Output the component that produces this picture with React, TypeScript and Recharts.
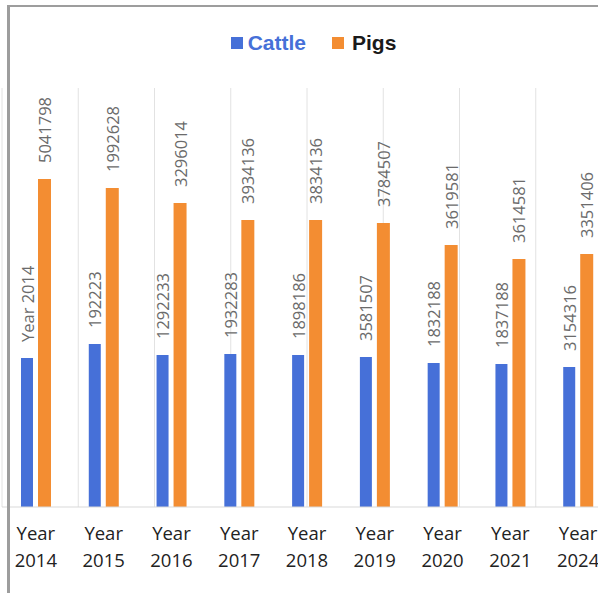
import React from 'react'
import { BarChart, Bar, XAxis, YAxis, CartesianGrid, Legend, LabelList } from 'recharts'

// categories along the x axis
const years = ['2014', '2015', '2016', '2017', '2018', '2019', '2020', '2021', '2024']

// bar heights (the printed labels do not match them)
const cattleValues = [149, 163, 152, 153, 152, 150, 144, 143, 140]
const pigsValues = [328, 319, 304, 287, 287, 284, 262, 248, 253]

// labels printed above the bars
const cattleLabels = ['Year 2014', '192223', '1292233', '1932283', '1898186', '3581507', '1832188', '1837188', '3154316']
const pigsLabels = ['5041798', '1992628', '3296014', '3934136', '3834136', '3784507', '3619581', '3614581', '3351406']

const gridTicks = [1, 2, 3, 4, 5, 6, 7, 8]

const CATTLE = '#4670D8'
const PIGS = '#F38D32'

const data = years.map((year, i) => ({
  year,
  cattle: cattleValues[i],
  pigs: pigsValues[i],
  cattleLabel: cattleLabels[i],
  pigsLabel: pigsLabels[i],
}))

const ValueLabel = (props: any) => {
  const { x, y, width, value } = props
  const cx = x + width / 2
  const cy = y - 16
  return (
    <text
      x={cx}
      y={cy}
      transform={`rotate(-90, ${cx}, ${cy})`}
      textAnchor="start"
      dominantBaseline="central"
      fontFamily="'Open Sans', sans-serif"
      fontSize={16.5}
      fill="#6b6b6b"
    >
      {value}
    </text>
  )
}

const YearTick = (props: any) => {
  const { x, y, payload } = props
  return (
    <text textAnchor="middle" fontFamily="'Open Sans', sans-serif" fontSize={18.5} fill="#222">
      <tspan x={x} y={y + 33}>Year</tspan>
      <tspan x={x} y={y + 60}>{payload.value}</tspan>
    </text>
  )
}

const LegendContent = () => (
  <div
    style={{
      height: 60,
      display: 'flex',
      justifyContent: 'center',
      alignItems: 'flex-start',
      paddingLeft: 13,
      fontFamily: "'Liberation Sans', Arial, sans-serif",
      fontWeight: 'bold',
      fontSize: 21,
      lineHeight: '30px',
    }}
  >
    <span style={{ display: 'flex', alignItems: 'center', color: CATTLE }}>
      <span style={{ width: 12, height: 12, background: CATTLE, marginRight: 5 }} />
      Cattle
    </span>
    <span style={{ display: 'flex', alignItems: 'center', color: '#1a1a1a', marginLeft: 26 }}>
      <span style={{ width: 12, height: 12, background: PIGS, marginRight: 8 }} />
      Pigs
    </span>
  </div>
)

export default function App() {
  return (
    <div
      style={{
        position: 'fixed',
        left: 0,
        top: 0,
        width: 598,
        height: 593,
        overflow: 'hidden',
        background: '#fff',
      }}
    >
      <div style={{ position: 'absolute', left: 0, top: 0 }}>
        <BarChart
          width={620}
          height={593}
          data={data}
          margin={{ top: 28, right: 8, bottom: 0, left: 2 }}
          barGap={5}
          barSize={12}
        >
          <Legend verticalAlign="top" content={<LegendContent />} />
          <XAxis xAxisId="grid" type="number" domain={[-0.08, 8.92]} ticks={gridTicks} hide />
          <CartesianGrid xAxisId="grid" vertical horizontal={false} stroke="#e2e2e2" />
          <XAxis
            dataKey="year"
            height={86}
            tickLine={false}
            tickSize={0}
            tickMargin={0}
            axisLine={{ stroke: '#d9d9d9' }}
            tick={<YearTick />}
            interval={0}
          />
          <YAxis hide domain={[0, 419]} />
          <Bar dataKey="cattle" fill={CATTLE} isAnimationActive={false}>
            <LabelList dataKey="cattleLabel" content={<ValueLabel />} />
          </Bar>
          <Bar dataKey="pigs" fill={PIGS} barSize={13} isAnimationActive={false}>
            <LabelList dataKey="pigsLabel" content={<ValueLabel />} />
          </Bar>
        </BarChart>
      </div>
      <div
        style={{
          position: 'absolute',
          left: 7,
          top: 5,
          width: 700,
          height: 700,
          borderLeft: '3px solid #9d9d9d',
          borderTop: '2px solid #9d9d9d',
          pointerEvents: 'none',
        }}
      />
    </div>
  )
}
